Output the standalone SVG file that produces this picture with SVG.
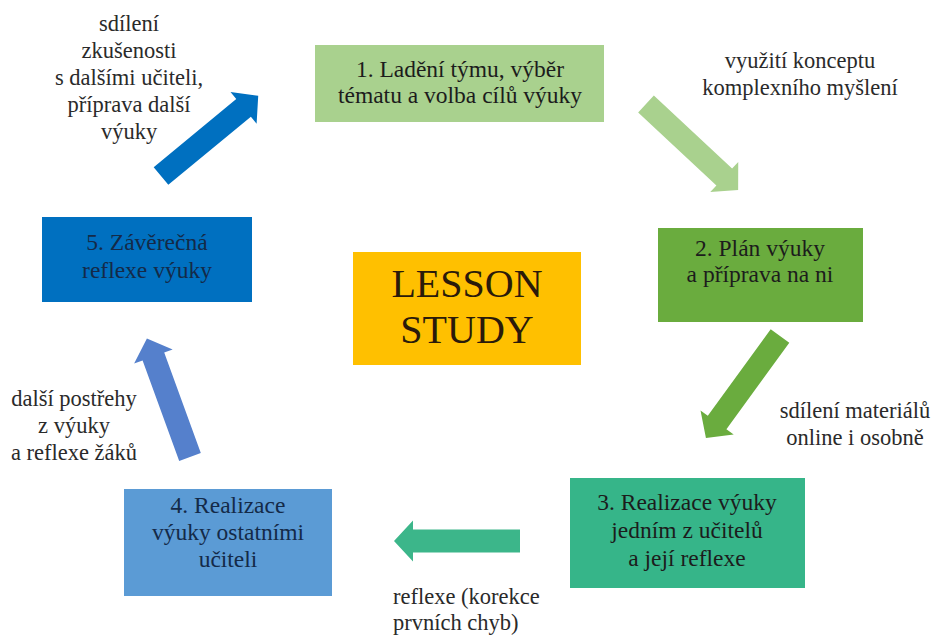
<svg xmlns="http://www.w3.org/2000/svg" xmlns:xlink="http://www.w3.org/1999/xlink" width="934" height="636" viewBox="0 0 934 636">
<style>
.bt{font-family:"Liberation Serif","Times New Roman",serif;font-size:23.5px;text-anchor:middle;fill:#1c1c1c}
.bb{fill:#142a48}
.lb{font-family:"Liberation Serif","Times New Roman",serif;font-size:22.5px;fill:#2a2a2a}
.c{text-anchor:middle}
.ls{font-family:"Liberation Serif","Times New Roman",serif;font-size:40px;text-anchor:middle;fill:#2a1a0a}
</style>
<defs>
<path id="arr" d="M0,-11.5 H107 V-20.5 L126,0 L107,20.5 V11.5 H0 Z"/>
</defs>
<rect width="934" height="636" fill="#ffffff"/>
<g id="connectors">
<use xlink:href="#arr" href="#arr" fill="#a9d18e" transform="translate(646,104) rotate(43)"/>
<use xlink:href="#arr" href="#arr" fill="#6aac3e" transform="translate(780,336) rotate(126)"/>
<use xlink:href="#arr" href="#arr" fill="#3cb68a" transform="translate(520,541) rotate(180)"/>
<use xlink:href="#arr" href="#arr" fill="#5580cc" transform="translate(190,457) rotate(250)"/>
<use xlink:href="#arr" href="#arr" fill="#0070c0" transform="translate(161,176) rotate(-39.5)"/>
</g>
<g id="node1">
<rect x="315" y="45" width="289" height="77" fill="#a9d18e"/>
<text class="bt" x="460" y="77">1. Ladění týmu, výběr</text>
<text class="bt" x="460" y="103">tématu a volba cílů výuky</text>
</g>
<g id="node2">
<rect x="658" y="228" width="205" height="94" fill="#6aac3e"/>
<text class="bt" x="760" y="256">2. Plán výuky</text>
<text class="bt" x="760" y="282">a příprava na ni</text>
</g>
<g id="node3">
<rect x="570" y="478" width="235" height="110" fill="#36b589"/>
<text class="bt" x="687" y="510">3. Realizace výuky</text>
<text class="bt" x="687" y="538">jedním z učitelů</text>
<text class="bt" x="687" y="566">a její reflexe</text>
</g>
<g id="node4">
<rect x="124" y="489" width="208" height="107" fill="#5b9bd5"/>
<text class="bt bb" x="228" y="513">4. Realizace</text>
<text class="bt bb" x="228" y="540">výuky ostatními</text>
<text class="bt bb" x="228" y="567">učiteli</text>
</g>
<g id="node5">
<rect x="42" y="217" width="210" height="85" fill="#0070c0"/>
<text class="bt bb" x="147" y="250">5. Závěrečná</text>
<text class="bt bb" x="147" y="278">reflexe výuky</text>
</g>
<g id="center">
<rect x="353" y="252" width="228" height="113" fill="#ffc000"/>
<text class="ls" x="467" y="297">LESSON</text>
<text class="ls" x="467" y="343">STUDY</text>
</g>
<g id="labels">
<text class="lb c" x="129" y="31">sdílení</text>
<text class="lb c" x="129" y="58">zkušenosti</text>
<text class="lb c" x="129" y="85">s dalšími učiteli,</text>
<text class="lb c" x="129" y="112">příprava další</text>
<text class="lb c" x="129" y="139">výuky</text>
<text class="lb c" x="800" y="68">využití konceptu</text>
<text class="lb c" x="800" y="95">komplexního myšlení</text>
<text class="lb c" x="855" y="418">sdílení materiálů</text>
<text class="lb c" x="855" y="445">online i osobně</text>
<text class="lb" x="393" y="604">reflexe (korekce</text>
<text class="lb" x="393" y="630">prvních chyb)</text>
<text class="lb c" x="74" y="406">další postřehy</text>
<text class="lb c" x="74" y="433">z výuky</text>
<text class="lb c" x="74" y="460">a reflexe žáků</text>
</g>
</svg>
